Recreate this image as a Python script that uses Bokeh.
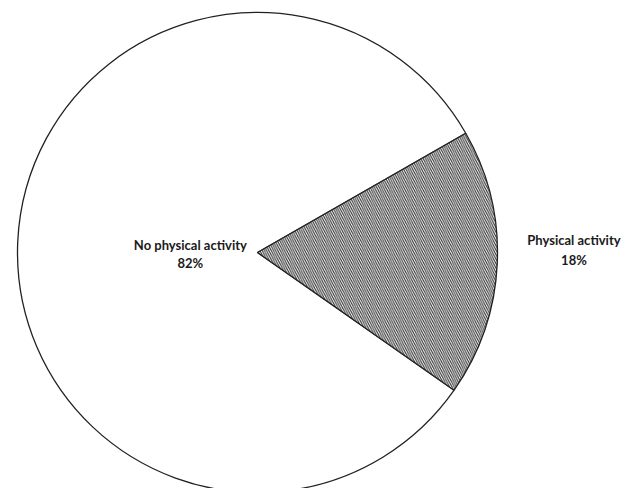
import math
from bokeh.plotting import figure
from bokeh.models import ColumnDataSource
from bokeh.core.properties import value
from bokeh.embed import file_html
from bokeh.resources import INLINE

categories = ["No physical activity", "Physical activity"]
percents = [82, 18]
start_deg = -35.0  # where the "Physical activity" slice begins (counter-clockwise)

W, H = 627, 488
cx, cy, R = 257, 236, 240

# counter-clockwise order: Physical activity first, then No physical activity
order = [1, 0]
starts, ends, mids = {}, {}, {}
a = math.radians(start_deg)
for i in order:
    span = 2 * math.pi * percents[i] / sum(percents)
    starts[i] = a
    ends[i] = a + span
    mids[i] = a + span / 2
    a += span

fills = ["white", "white"]
hatches = [" ", "\\"]
src = ColumnDataSource(dict(
    x=[cx, cx], y=[cy, cy],
    start=[starts[0], starts[1]], end=[ends[0], ends[1]],
    fill=fills, hatch=hatches,
))

p = figure(width=W, height=H, x_range=(0, W), y_range=(0, H),
           output_backend="svg", toolbar_location=None, min_border=0)
p.axis.visible = False
p.grid.visible = False
p.outline_line_color = None

p.wedge(x="x", y="y", radius=R, start_angle="start", end_angle="end",
        fill_color="fill", line_color="#222222", line_width=1.3,
        hatch_pattern="hatch", hatch_color="#333333", hatch_scale=4.5,
        hatch_weight=1.1, source=src)

# label anchors: horizontal distance along the slice's middle direction
label_r = {0: 0.28, 1: 1.32}
name_dy = [8, 13]
pct_dy = [-10, -7]
lx = [cx + label_r[i] * R * math.cos(mids[i]) for i in range(2)]
names = categories
pcts = [f"{v}%" for v in percents]

p.text(x=lx, y=[cy + d for d in name_dy], text=names, text_font=value("Lato"),
       text_font_style="bold", text_font_size="13px", text_align="center",
       text_baseline="middle", text_color="#1a1a1a")
p.text(x=lx, y=[cy + d for d in pct_dy], text=pcts, text_font=value("Lato"),
       text_font_style="bold", text_font_size="13px", text_align="center",
       text_baseline="middle", text_color="#1a1a1a")

open("out.html", "w").write(file_html(p, INLINE))
